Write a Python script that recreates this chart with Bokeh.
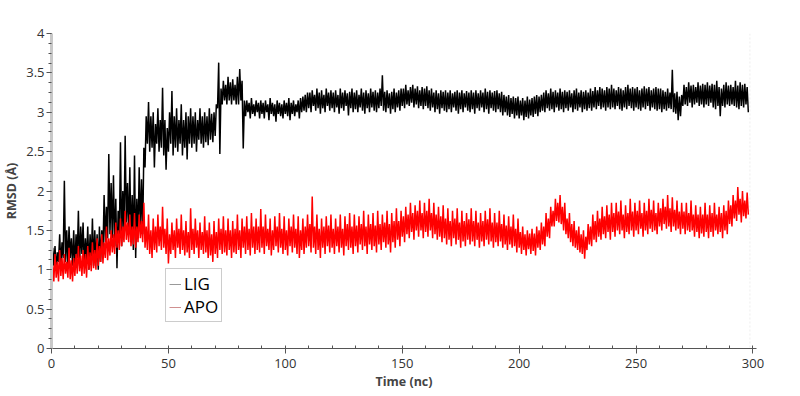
from bokeh.plotting import figure
from bokeh.models import Range1d, SingleIntervalTicker, Legend, LegendItem, Span
from bokeh.embed import file_html
from bokeh.resources import INLINE

# time in ns, one reading every 0.5 ns (values alternate between the local low and high)
time = [i * 0.5 for i in range(597)]

lig = [
    1.20, 1.28, 1.05, 1.30, 1.00, 1.22, 1.10, 1.45, 1.05, 1.35, 1.15, 2.13, 1.10, 1.50, 1.05, 1.55, 1.15, 1.40, 1.05, 1.50,
    1.00, 1.45, 1.15, 1.75, 1.05, 1.55, 1.20, 1.60, 1.05, 1.40, 1.10, 1.55, 1.00, 1.45, 1.10, 1.65, 1.05, 1.50, 1.10, 1.45,
    1.00, 1.55, 1.10, 1.50, 1.20, 1.95, 1.35, 1.80, 1.40, 2.47, 1.45, 2.10, 1.40, 2.20, 1.30, 1.90, 1.02, 1.75, 1.35, 2.62,
    1.30, 2.00, 1.50, 2.70, 1.60, 2.10, 1.45, 2.30, 1.35, 1.95, 1.25, 2.45, 1.15, 1.90, 1.40, 2.30, 1.50, 2.15, 1.45, 2.55,
    2.30, 2.95, 2.60, 3.13, 2.50, 2.95, 2.55, 3.00, 2.30, 2.85, 2.60, 3.05, 2.50, 2.90, 2.55, 3.31, 2.45, 2.90, 2.27, 2.80,
    2.50, 3.00, 2.60, 3.27, 2.45, 2.95, 2.55, 3.05, 2.50, 2.90, 2.60, 3.10, 2.45, 2.90, 2.55, 3.00, 2.40, 2.95, 2.60, 3.05,
    2.55, 2.95, 2.60, 3.00, 2.50, 2.90, 2.65, 3.05, 2.60, 2.95, 2.55, 3.00, 2.62, 2.95, 2.58, 3.05, 2.65, 2.98, 2.62, 3.00,
    2.70, 3.10, 3.05, 3.63, 2.47, 3.30, 3.10, 3.40, 3.15, 3.35, 3.10, 3.45, 3.15, 3.38, 3.10, 3.42, 3.15, 3.35, 3.10, 3.45,
    3.10, 3.55, 3.15, 3.40, 2.54, 3.15, 2.95, 3.15, 3.00, 3.12, 2.92, 3.18, 2.98, 3.10, 2.95, 3.15, 3.00, 3.12, 2.92, 3.15,
    2.98, 3.12, 2.92, 3.15, 3.00, 3.10, 2.90, 3.18, 2.98, 3.12, 2.95, 3.10, 2.88, 3.15, 2.98, 3.12, 2.95, 3.10, 2.92, 3.15,
    2.98, 3.12, 2.95, 3.18, 2.90, 3.12, 2.98, 3.15, 2.95, 3.10, 3.00, 3.15, 2.92, 3.18, 3.00, 3.20, 3.02, 3.22, 3.00, 3.25,
    3.05, 3.25, 3.00, 3.28, 3.08, 3.22, 3.02, 3.30, 3.05, 3.25, 2.98, 3.28, 3.05, 3.22, 3.00, 3.30, 3.08, 3.25, 3.02, 3.28,
    3.05, 3.25, 3.00, 3.28, 3.06, 3.22, 2.98, 3.30, 3.05, 3.25, 3.02, 3.28, 3.08, 3.24, 2.96, 3.26, 3.05, 3.30, 3.00, 3.25,
    3.04, 3.28, 3.00, 3.22, 3.06, 3.30, 3.02, 3.25, 2.98, 3.28, 3.05, 3.24, 3.00, 3.30, 3.06, 3.26, 3.02, 3.28, 3.00, 3.25,
    3.05, 3.30, 3.08, 3.47, 3.02, 3.26, 3.00, 3.28, 3.05, 3.24, 2.98, 3.26, 3.04, 3.30, 3.00, 3.25, 3.06, 3.28, 3.02, 3.30,
    3.08, 3.30, 3.05, 3.35, 3.10, 3.28, 3.08, 3.32, 3.12, 3.35, 3.06, 3.30, 3.10, 3.33, 3.05, 3.28, 3.08, 3.32, 3.04, 3.30,
    3.08, 3.33, 3.05, 3.28, 3.02, 3.30, 3.06, 3.25, 3.00, 3.28, 3.04, 3.24, 2.98, 3.28, 3.05, 3.26, 3.02, 3.28, 3.00, 3.25,
    3.04, 3.28, 3.00, 3.24, 3.06, 3.26, 3.02, 3.28, 2.98, 3.25, 3.04, 3.28, 3.00, 3.24, 3.06, 3.27, 3.02, 3.25, 3.00, 3.28,
    3.04, 3.25, 2.98, 3.28, 3.05, 3.24, 3.02, 3.28, 3.06, 3.25, 3.00, 3.30, 3.04, 3.26, 2.98, 3.28, 3.05, 3.25, 3.02, 3.27,
    3.00, 3.28, 3.04, 3.24, 3.00, 3.26, 2.96, 3.22, 3.00, 3.20, 2.96, 3.22, 2.94, 3.18, 2.98, 3.20, 2.92, 3.18, 2.96, 3.20,
    2.92, 3.15, 2.96, 3.18, 2.90, 3.15, 2.94, 3.20, 2.92, 3.16, 2.96, 3.18, 2.94, 3.20, 2.98, 3.22, 2.95, 3.20, 3.00, 3.22,
    3.02, 3.25, 3.00, 3.28, 3.05, 3.24, 3.02, 3.30, 3.04, 3.26, 3.00, 3.28, 3.06, 3.25, 3.02, 3.30, 3.04, 3.26, 3.00, 3.28,
    3.05, 3.26, 3.02, 3.28, 3.06, 3.24, 3.00, 3.28, 3.04, 3.30, 3.02, 3.25, 3.06, 3.28, 3.00, 3.26, 3.04, 3.28, 3.02, 3.25,
    3.05, 3.30, 3.02, 3.27, 3.06, 3.32, 3.04, 3.28, 3.08, 3.32, 3.04, 3.30, 3.06, 3.28, 3.02, 3.32, 3.06, 3.30, 3.04, 3.35,
    3.06, 3.30, 3.04, 3.28, 3.08, 3.32, 3.04, 3.30, 3.02, 3.28, 3.06, 3.32, 3.04, 3.35, 3.08, 3.30, 3.05, 3.32, 3.02, 3.30,
    3.06, 3.32, 3.04, 3.28, 3.02, 3.30, 3.06, 3.33, 3.04, 3.30, 3.08, 3.32, 3.02, 3.28, 3.06, 3.30, 3.04, 3.32, 3.02, 3.30,
    3.04, 3.30, 3.00, 3.28, 3.04, 3.26, 3.02, 3.30, 3.05, 3.25, 3.04, 3.54, 3.00, 3.24, 2.98, 3.26, 2.90, 3.20, 2.95, 3.22,
    3.08, 3.35, 3.10, 3.32, 3.08, 3.38, 3.12, 3.34, 3.06, 3.35, 3.10, 3.32, 3.12, 3.38, 3.08, 3.34, 3.10, 3.36, 3.06, 3.35,
    3.10, 3.38, 3.08, 3.34, 3.12, 3.36, 3.06, 3.35, 3.04, 3.40, 3.08, 3.32, 2.95, 3.30, 3.08, 3.35, 3.06, 3.38, 3.10, 3.34,
    3.08, 3.35, 3.10, 3.32, 3.08, 3.40, 3.06, 3.34, 3.04, 3.38, 3.08, 3.35, 3.06, 3.36, 3.10, 3.32, 3.00,
]

apo = [
    0.75, 1.05, 0.85, 1.20, 0.90, 1.10, 0.85, 1.25, 0.92, 1.15, 0.88, 1.20, 0.95, 1.10, 0.90, 1.28, 0.88, 1.12, 0.85, 1.15,
    0.92, 1.20, 0.95, 1.30, 0.98, 1.18, 0.92, 1.25, 0.95, 1.20, 0.90, 1.30, 1.00, 1.22, 0.98, 1.35, 1.02, 1.25, 1.00, 1.40,
    1.05, 1.30, 1.10, 1.45, 1.08, 1.35, 1.15, 1.55, 1.12, 1.40, 1.18, 1.50, 1.22, 1.45, 1.20, 1.60, 1.28, 1.50, 1.25, 1.65,
    1.30, 1.55, 1.35, 1.75, 1.38, 1.60, 1.35, 1.70, 1.30, 1.55, 1.32, 1.72, 1.28, 1.55, 1.35, 1.70, 1.40, 1.62, 1.35, 1.85,
    1.28, 1.55, 1.25, 1.70, 1.20, 1.50, 1.15, 1.65, 1.25, 1.55, 1.22, 1.70, 1.30, 1.55, 1.25, 1.80, 1.28, 1.52, 1.20, 1.65,
    1.08, 1.45, 1.20, 1.60, 1.25, 1.50, 1.15, 1.65, 1.28, 1.52, 1.20, 1.70, 1.25, 1.50, 1.18, 1.62, 1.22, 1.48, 1.15, 1.78,
    1.25, 1.52, 1.20, 1.65, 1.28, 1.50, 1.15, 1.60, 1.25, 1.48, 1.20, 1.68, 1.22, 1.50, 1.15, 1.60, 1.18, 1.45, 1.10, 1.62,
    1.20, 1.48, 1.15, 1.65, 1.25, 1.52, 1.20, 1.68, 1.22, 1.50, 1.18, 1.65, 1.25, 1.50, 1.15, 1.62, 1.22, 1.52, 1.20, 1.70,
    1.25, 1.50, 1.15, 1.65, 1.28, 1.55, 1.20, 1.68, 1.25, 1.52, 1.18, 1.72, 1.28, 1.55, 1.20, 1.65, 1.25, 1.55, 1.22, 1.77,
    1.28, 1.55, 1.20, 1.70, 1.30, 1.52, 1.25, 1.65, 1.18, 1.50, 1.25, 1.68, 1.30, 1.55, 1.22, 1.72, 1.28, 1.52, 1.20, 1.68,
    1.25, 1.50, 1.18, 1.65, 1.30, 1.55, 1.22, 1.70, 1.28, 1.52, 1.20, 1.68, 1.15, 1.50, 1.25, 1.65, 1.20, 1.55, 1.28, 1.70,
    1.30, 1.58, 1.22, 1.93, 1.28, 1.55, 1.20, 1.70, 1.25, 1.52, 1.15, 1.65, 1.28, 1.55, 1.20, 1.68, 1.30, 1.56, 1.22, 1.70,
    1.28, 1.52, 1.20, 1.65, 1.30, 1.55, 1.22, 1.70, 1.28, 1.52, 1.18, 1.68, 1.30, 1.58, 1.25, 1.72, 1.28, 1.55, 1.20, 1.70,
    1.30, 1.56, 1.22, 1.68, 1.32, 1.58, 1.25, 1.75, 1.30, 1.55, 1.20, 1.70, 1.32, 1.58, 1.25, 1.72, 1.30, 1.56, 1.22, 1.75,
    1.32, 1.58, 1.25, 1.70, 1.35, 1.60, 1.28, 1.75, 1.32, 1.58, 1.22, 1.72, 1.35, 1.62, 1.28, 1.78, 1.38, 1.62, 1.30, 1.75,
    1.42, 1.68, 1.35, 1.80, 1.45, 1.70, 1.40, 1.85, 1.48, 1.72, 1.38, 1.82, 1.50, 1.75, 1.42, 1.88, 1.50, 1.72, 1.40, 1.85,
    1.48, 1.75, 1.42, 1.90, 1.50, 1.72, 1.40, 1.85, 1.45, 1.70, 1.38, 1.80, 1.42, 1.68, 1.35, 1.82, 1.40, 1.65, 1.32, 1.78,
    1.38, 1.62, 1.30, 1.75, 1.40, 1.65, 1.32, 1.78, 1.38, 1.60, 1.28, 1.75, 1.36, 1.62, 1.30, 1.72, 1.38, 1.64, 1.32, 1.78,
    1.36, 1.62, 1.30, 1.75, 1.38, 1.60, 1.28, 1.72, 1.36, 1.62, 1.30, 1.75, 1.38, 1.64, 1.32, 1.78, 1.36, 1.60, 1.28, 1.72,
    1.35, 1.60, 1.30, 1.75, 1.36, 1.58, 1.28, 1.70, 1.32, 1.56, 1.25, 1.68, 1.32, 1.55, 1.28, 1.70, 1.30, 1.52, 1.22, 1.65,
    1.28, 1.48, 1.20, 1.55, 1.25, 1.45, 1.18, 1.50, 1.26, 1.46, 1.20, 1.52, 1.24, 1.46, 1.18, 1.55, 1.28, 1.50, 1.25, 1.60,
    1.32, 1.55, 1.30, 1.72, 1.42, 1.65, 1.40, 1.80, 1.55, 1.75, 1.55, 1.90, 1.62, 1.85, 1.60, 1.95, 1.58, 1.80, 1.50, 1.85,
    1.45, 1.65, 1.40, 1.72, 1.35, 1.58, 1.30, 1.62, 1.28, 1.50, 1.25, 1.55, 1.22, 1.45, 1.20, 1.50, 1.14, 1.42, 1.25, 1.58,
    1.32, 1.55, 1.30, 1.70, 1.38, 1.62, 1.35, 1.75, 1.42, 1.65, 1.38, 1.80, 1.45, 1.68, 1.40, 1.82, 1.48, 1.70, 1.38, 1.85,
    1.48, 1.72, 1.42, 1.85, 1.50, 1.74, 1.45, 1.88, 1.50, 1.70, 1.40, 1.82, 1.48, 1.72, 1.45, 1.90, 1.50, 1.74, 1.42, 1.85,
    1.50, 1.75, 1.45, 1.88, 1.52, 1.72, 1.42, 1.85, 1.50, 1.75, 1.45, 1.90, 1.52, 1.76, 1.48, 1.88, 1.50, 1.72, 1.45, 1.85,
    1.55, 1.78, 1.50, 1.90, 1.58, 1.80, 1.52, 1.95, 1.55, 1.78, 1.48, 1.92, 1.55, 1.76, 1.50, 1.88, 1.52, 1.74, 1.45, 1.85,
    1.52, 1.74, 1.45, 1.85, 1.50, 1.72, 1.48, 1.88, 1.50, 1.70, 1.42, 1.82, 1.48, 1.70, 1.40, 1.80, 1.46, 1.70, 1.42, 1.85,
    1.48, 1.70, 1.40, 1.82, 1.48, 1.72, 1.42, 1.85, 1.50, 1.70, 1.45, 1.80, 1.48, 1.72, 1.40, 1.82, 1.50, 1.75, 1.45, 1.88,
    1.58, 1.82, 1.55, 1.95, 1.65, 1.88, 1.62, 2.05, 1.70, 1.90, 1.60, 2.00, 1.68, 1.88, 1.65, 1.98, 1.70,
]

x_ticks_interval = 50
y_ticks_interval = 0.5
x_label = "Time (nc)"
y_label = "RMSD (Å)"
series_names = ["LIG", "APO"]

FONT = "Open Sans"

p = figure(frame_width=705, frame_height=315, output_backend="svg", toolbar_location=None,
           x_range=Range1d(0, 301.5), y_range=Range1d(0, 4),
           min_border_left=49, min_border_right=30, min_border_top=33, min_border_bottom=40)
p.outline_line_color = None
p.xgrid.visible = False
p.ygrid.visible = False
p.background_fill_color = "white"
p.border_fill_color = "white"

r_lig = p.line(time, lig, line_color="black", line_width=1.5)
r_apo = p.line(time, apo, line_color="#ff0000", line_width=1.5)

# faint marker at the end of the data
p.add_layout(Span(location=time[-1] + 0.7, dimension="height", line_color="#eeeeee",
                  line_width=1, line_dash="2 2"))

# legend swatches (thin, light lines as in the original); single-point lines draw nothing on the plot
leg_lig = p.line(time[:1], lig[:1], line_color="#999999", line_width=1)
leg_apo = p.line(time[:1], apo[:1], line_color="#d09090", line_width=1)
legend = Legend(items=[LegendItem(label=series_names[0], renderers=[leg_lig]),
                       LegendItem(label=series_names[1], renderers=[leg_apo])],
                location=(114, 26), orientation="vertical",
                label_text_font=FONT, label_text_font_size="17px", label_text_color="black",
                label_text_line_height=1.05,
                glyph_width=12, glyph_height=18, label_height=18, label_standoff=3,
                padding=3, spacing=0, margin=0,
                border_line_color="#999999", border_line_width=1,
                background_fill_color="white", background_fill_alpha=1)
p.add_layout(legend, "center")

# x axis
xa = p.xaxis[0]
xa.ticker = SingleIntervalTicker(interval=x_ticks_interval, num_minor_ticks=5)
xa.axis_label = x_label
xa.axis_label_text_font = FONT
xa.axis_label_text_font_style = "bold"
xa.axis_label_text_font_size = "12.5px"
xa.axis_label_standoff = 2
xa.major_label_text_font = FONT
xa.major_label_text_font_size = "13px"
xa.major_label_text_color = "#333333"
xa.major_label_standoff = 5
xa.axis_line_color = "#555555"
xa.major_tick_line_color = "#555555"
xa.minor_tick_line_color = "#555555"
xa.major_tick_out = 5
xa.major_tick_in = 0
xa.minor_tick_out = 0
xa.minor_tick_in = 3

# y axis
ya = p.yaxis[0]
ya.ticker = SingleIntervalTicker(interval=y_ticks_interval, num_minor_ticks=4)
ya.axis_label = y_label
ya.axis_label_text_font = FONT
ya.axis_label_text_font_style = "bold"
ya.axis_label_text_font_size = "12.5px"
ya.axis_label_standoff = 3
ya.major_label_text_font = FONT
ya.major_label_text_font_size = "13px"
ya.major_label_text_color = "#333333"
ya.major_label_standoff = 2
ya.axis_line_color = "#c8c8c8"
ya.axis_line_width = 3
ya.major_tick_line_color = "#555555"
ya.minor_tick_line_color = "#555555"
ya.major_tick_out = 5
ya.major_tick_in = 0
ya.minor_tick_out = 3
ya.minor_tick_in = 0

open("out.html", "w").write(file_html(p, INLINE))
